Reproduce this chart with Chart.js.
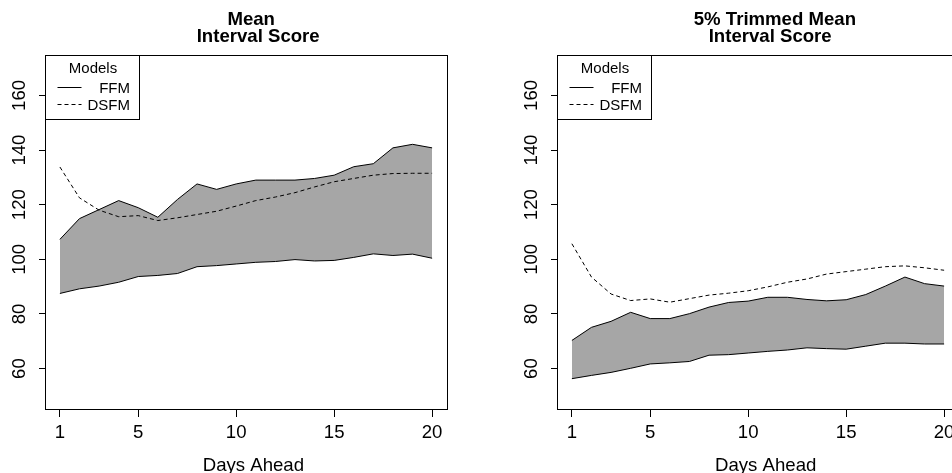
<!DOCTYPE html>
<html>
<head>
<meta charset="utf-8">
<script src="https://cdn.jsdelivr.net/npm/chart.js@4"></script>
<style>
    html, body { margin: 0; padding: 0; background: #fff; overflow: hidden; }
    .panel { position: absolute; top: 0; }
    #leftPanel { left: 0; }
    #rightPanel { left: 476px; }
</style>
</head>
<body>
<div class="panel" id="leftPanel"><canvas id="meanChart" width="476" height="473"></canvas></div>
<div class="panel" id="rightPanel"><canvas id="trimChart" width="490" height="473"></canvas></div>
<script>
const days = [1, 2, 3, 4, 5, 6, 7, 8, 9, 10, 11, 12, 13, 14, 15, 16, 17, 18, 19, 20];
const xTicks = [1, 5, 10, 15, 20];
const yTicks = [60, 80, 100, 120, 140, 160];

// Mean interval score
const meanFfmUpper = [107.3, 114.9, 118.2, 121.5, 118.9, 115.4, 121.9, 127.6, 125.6, 127.6,
                      129.0, 129.0, 129.0, 129.6, 130.8, 133.9, 135.0, 140.8, 142.1, 140.8];
const meanFfmLower = [87.5, 89.2, 90.2, 91.6, 93.7, 94.1, 94.8, 97.3, 97.7, 98.3,
                      98.9, 99.2, 99.9, 99.4, 99.6, 100.7, 102.0, 101.4, 101.9, 100.4];
const meanDsfm = [133.8, 122.5, 118.0, 115.6, 116.0, 114.2, 115.2, 116.4, 117.6, 119.5,
                  121.5, 122.8, 124.4, 126.5, 128.4, 129.6, 130.8, 131.4, 131.5, 131.5];

// 5% trimmed mean interval score
const trimFfmUpper = [70.3, 75.1, 77.3, 80.6, 78.3, 78.3, 80.1, 82.5, 84.2, 84.7,
                      86.1, 86.1, 85.3, 84.8, 85.2, 87.1, 90.2, 93.5, 91.1, 90.2];
const trimFfmLower = [56.3, 57.5, 58.6, 60.1, 61.7, 62.1, 62.6, 64.9, 65.1, 65.7,
                      66.3, 66.8, 67.6, 67.3, 67.1, 68.2, 69.3, 69.3, 69.0, 69.0];
const trimDsfm = [105.7, 93.5, 87.3, 84.9, 85.5, 84.3, 85.6, 86.9, 87.6, 88.5,
                  89.9, 91.6, 92.8, 94.6, 95.5, 96.4, 97.3, 97.6, 96.9, 96.0];

const FONT = '"Liberation Sans", Arial, Helvetica, sans-serif';
const BIG = 18.6;

// R style frame, titles, x label and legend
const rBase = {
    id: 'rBase',
    afterDraw(chart, args, opts) {
        const { ctx, chartArea: a } = chart;
        const cx = (a.left + a.right) / 2;
        ctx.save();
        ctx.strokeStyle = '#000';
        ctx.fillStyle = '#000';
        ctx.lineWidth = 1;
        ctx.strokeRect(Math.round(a.left) + 0.5, Math.round(a.top) + 0.5,
            Math.round(a.right - a.left), Math.round(a.bottom - a.top));

        ctx.textAlign = 'center';
        ctx.textBaseline = 'alphabetic';
        ctx.font = 'bold ' + BIG + 'px ' + FONT;
        opts.title.forEach((line, i) => ctx.fillText(line, cx + opts.titleShift[i], 25 + i * 16.7));
        ctx.font = BIG + 'px ' + FONT;
        ctx.fillText('Days Ahead', cx + opts.xlabShift, 470.7);

        // legend
        const lx = Math.round(a.left) + 0.5, ly = Math.round(a.top) + 0.5;
        ctx.fillStyle = '#fff';
        ctx.fillRect(lx, ly, 94, 64);
        ctx.strokeRect(lx, ly, 94, 64);
        ctx.fillStyle = '#000';
        ctx.font = '15px ' + FONT;
        ctx.fillText('Models', lx + 47.5, ly + 17.5);
        ctx.textAlign = 'right';
        ctx.fillText('FFM', lx + 84.5, ly + 37.5);
        ctx.fillText('DSFM', lx + 84.5, ly + 54);
        ctx.beginPath();
        ctx.moveTo(lx + 12, ly + 32);
        ctx.lineTo(lx + 36, ly + 32);
        ctx.stroke();
        ctx.setLineDash([4, 3]);
        ctx.beginPath();
        ctx.moveTo(lx + 12, ly + 49);
        ctx.lineTo(lx + 36, ly + 49);
        ctx.stroke();
        ctx.restore();
    }
};

function points(values) {
    return days.map((d, i) => ({ x: d, y: values[i] }));
}

function makePanel(id, upper, lower, dsfm, cfg) {
    const ctx = document.getElementById(id).getContext('2d');
    return new Chart(ctx, {
        type: 'line',
        data: {
            datasets: [
                {
                    label: 'FFM upper',
                    data: points(upper),
                    borderColor: '#000',
                    borderWidth: 1,
                    pointRadius: 0,
                    backgroundColor: '#a6a6a6',
                    fill: '+1'
                },
                {
                    label: 'FFM lower',
                    data: points(lower),
                    borderColor: '#000',
                    borderWidth: 1,
                    pointRadius: 0,
                    fill: false
                },
                {
                    label: 'DSFM',
                    data: points(dsfm),
                    borderColor: '#000',
                    borderWidth: 1,
                    borderDash: [4, 3],
                    pointRadius: 0,
                    fill: false
                }
            ]
        },
        options: {
            responsive: false,
            animation: false,
            events: [],
            layout: { padding: { top: 55, right: cfg.padRight, left: 0, bottom: 0 } },
            scales: {
                x: {
                    type: 'linear',
                    min: 0.24,
                    max: 20.76,
                    afterBuildTicks: s => { s.ticks = xTicks.map(v => ({ value: v })); },
                    afterFit: s => { s.height = 64; },
                    border: { display: false },
                    grid: { drawOnChartArea: false, drawTicks: true, tickLength: 8, color: '#000' },
                    ticks: {
                        color: '#000',
                        padding: 5,
                        maxRotation: 0,
                        autoSkip: false,
                        font: { family: FONT, size: BIG },
                        callback: v => String(v)
                    }
                },
                y: {
                    min: 45.2,
                    max: 174.8,
                    afterBuildTicks: s => { s.ticks = yTicks.map(v => ({ value: v })); },
                    afterFit: s => { s.width = cfg.axisWidth; },
                    border: { display: false },
                    grid: { drawOnChartArea: false, drawTicks: true, tickLength: 6, color: '#000' },
                    ticks: {
                        color: '#000',
                        padding: 4,
                        minRotation: 90,
                        maxRotation: 90,
                        crossAlign: 'center',
                        autoSkip: false,
                        font: { family: FONT, size: BIG },
                        callback: v => String(v)
                    }
                }
            },
            plugins: {
                legend: { display: false },
                tooltip: { enabled: false },
                filler: { drawTime: 'beforeDatasetsDraw' },
                rBase: cfg
            }
        },
        plugins: [rBase]
    });
}

makePanel('meanChart', meanFfmUpper, meanFfmLower, meanDsfm, {
    axisWidth: 45,
    padRight: 29,
    title: ['Mean', 'Interval Score'],
    titleShift: [5.2, 12.2],
    xlabShift: 7.4
});

makePanel('trimChart', trimFfmUpper, trimFfmLower, trimDsfm, {
    axisWidth: 81,
    padRight: 7,
    title: ['5% Trimmed Mean', 'Interval Score'],
    titleShift: [16.9, 12.2],
    xlabShift: 7.7
});
</script>
</body>
</html>
